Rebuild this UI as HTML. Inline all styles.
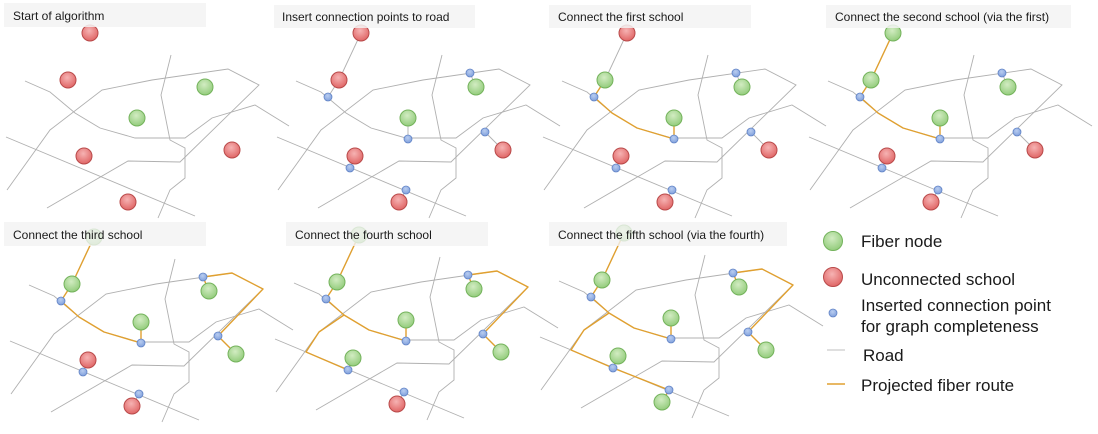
<!DOCTYPE html>
<html><head><meta charset="utf-8"><style>
html,body{margin:0;padding:0;background:#fff;}
svg{display:block;}
text{font-family:"Liberation Sans",Arial,sans-serif;fill:#1a1a1a;}
</style></head><body>
<svg id="s" width="1098" height="434" viewBox="0 0 1098 434" xmlns="http://www.w3.org/2000/svg">
<defs>
<radialGradient id="gr" cx="45%" cy="35%" r="65%"><stop offset="0" stop-color="#f6b3b3"/><stop offset="1" stop-color="#e06666"/></radialGradient>
<radialGradient id="gg" cx="45%" cy="35%" r="65%"><stop offset="0" stop-color="#d2ecc2"/><stop offset="1" stop-color="#93cc7c"/></radialGradient>
<radialGradient id="gb" cx="45%" cy="35%" r="65%"><stop offset="0" stop-color="#b9cdf0"/><stop offset="1" stop-color="#7f9fdc"/></radialGradient>
</defs>
<g id="maps"></g>
<g id="titles">
<rect x="4" y="3" width="202" height="24" fill="#f3f3f3" fill-opacity="0.85"/>
<text x="13" y="20" font-size="12">Start of algorithm</text>
<rect x="274" y="5" width="201" height="23" fill="#f3f3f3" fill-opacity="0.85"/>
<text x="282" y="21" font-size="12">Insert connection points to road</text>
<rect x="549" y="5" width="202" height="23" fill="#f3f3f3" fill-opacity="0.85"/>
<text x="558" y="21" font-size="12">Connect the first school</text>
<rect x="826" y="5" width="245" height="23" fill="#f3f3f3" fill-opacity="0.85"/>
<text x="835" y="21" font-size="12">Connect the second school (via the first)</text>
<rect x="4" y="222" width="202" height="24" fill="#f3f3f3" fill-opacity="0.8"/>
<text x="13" y="239" font-size="12">Connect the third school</text>
<rect x="286" y="222" width="202" height="24" fill="#f3f3f3" fill-opacity="0.8"/>
<text x="295" y="239" font-size="12">Connect the fourth school</text>
<rect x="549" y="222" width="238" height="24" fill="#f3f3f3" fill-opacity="0.8"/>
<text x="558" y="239" font-size="12">Connect the fifth school (via the fourth)</text>
</g>
<g id="legend">
<circle cx="833" cy="241" r="9.5" fill="url(#gg)" stroke="#74b35c" stroke-width="1"/>
<text x="861" y="247" font-size="17">Fiber node</text>
<circle cx="833" cy="277" r="9.5" fill="url(#gr)" stroke="#b94a4a" stroke-width="1"/>
<text x="861" y="285" font-size="17">Unconnected school</text>
<circle cx="833" cy="313" r="4" fill="url(#gb)" stroke="#6284c6" stroke-width="0.8"/>
<text x="861" y="311" font-size="17">Inserted connection point</text>
<text x="861" y="332" font-size="17">for graph completeness</text>
<line x1="827" y1="350" x2="845" y2="350" stroke="#aaa" stroke-width="0.8"/>
<text x="863" y="361" font-size="17">Road</text>
<line x1="827" y1="384" x2="845" y2="384" stroke="#e0a030" stroke-width="1.4"/>
<text x="861" y="391" font-size="17">Projected fiber route</text>
</g>
</svg>
<script>
(function(){
var NS="http://www.w3.org/2000/svg";
var maps=document.getElementById("maps");
function el(n,a,p){var e=document.createElementNS(NS,n);for(var k in a)e.setAttribute(k,a[k]);p.appendChild(e);return e;}
var roads=[
[[25,81],[50,92],[75,113],[100,128],[135,138],[185,138],[212,118],[255,105],[289,126]],
[[6,137],[195,216]],
[[7,190],[50,130],[102,90],[152,80],[228,69],[259,85],[180,162],[128,161],[47,208]],
[[171,55],[161,95],[170,140],[185,148],[185,178],[170,190],[158,218]]
];
var nodes=[[90,33],[68,80],[205,87],[137,118],[84,156],[232,150],[128,202]];
var blues=[[57,97],[199,73],[137,139],[214,132],[79,168],[135,190]];
var links=[[[90,33],[68,80]],[[68,80],[57,97]],[[205,87],[199,73]],[[137,118],[137,139]],[[232,150],[214,132]],[[84,156],[79,168]],[[128,202],[135,190]]];
var routes=[
[[68,80],[57,97],[75,113],[100,128],[137,139],[137,118]],
[[90,33],[68,80]],
[[205,87],[199,73],[228,69],[259,85],[214,132],[232,150]],
[[75,113],[50,130],[37,150],[79,168],[84,156]],
[[79,168],[135,190],[128,202]]
];
// panels: offset, blues?, number of routes, green set
var panels=[
{o:[0,0],b:false,r:0,g:[2,3]},
{o:[271,0],b:true,r:0,g:[2,3]},
{o:[537,0],b:true,r:1,g:[1,2,3]},
{o:[803,0],b:true,r:2,g:[0,1,2,3]},
{o:[4,204],b:true,r:3,g:[0,1,2,3,5]},
{o:[269,202],b:true,r:4,g:[0,1,2,3,4,5]},
{o:[534,200],b:true,r:5,g:[0,1,2,3,4,5,6]}
];
function pts(a,o){return a.map(function(p){return (p[0]+o[0])+","+(p[1]+o[1]);}).join(" ");}
panels.forEach(function(P){
var g=el("g",{},maps),o=P.o;
roads.forEach(function(r){el("polyline",{points:pts(r,o),fill:"none",stroke:"#b0b0b0","stroke-width":"0.9"},g);});
if(P.b){links.forEach(function(l){el("polyline",{points:pts(l,o),fill:"none",stroke:"#b0b0b0","stroke-width":"0.9"},g);});}
for(var i=0;i<P.r;i++){el("polyline",{points:pts(routes[i],o),fill:"none",stroke:"#e0a030","stroke-width":"1.4","stroke-linejoin":"round"},g);}
if(P.b){blues.forEach(function(b){el("circle",{cx:b[0]+o[0],cy:b[1]+o[1],r:4,fill:"url(#gb)",stroke:"#6284c6","stroke-width":"0.8"},g);});}
nodes.forEach(function(n,i){var gr=P.g.indexOf(i)>=0;
el("circle",{cx:n[0]+o[0],cy:n[1]+o[1],r:8,fill:gr?"url(#gg)":"url(#gr)",stroke:gr?"#74b35c":"#b94a4a","stroke-width":"1"},g);});
});
})();
</script>
</body></html>
